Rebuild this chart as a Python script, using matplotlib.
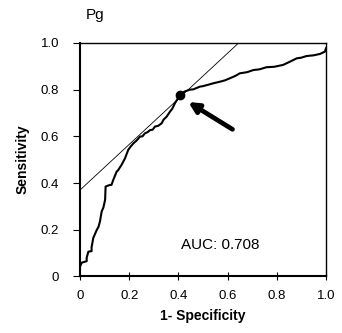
import matplotlib
matplotlib.use("Agg")
import matplotlib.pyplot as plt

plt.rcParams['font.family'] = ['Liberation Sans', 'DejaVu Sans']

# ROC curve (1-specificity, sensitivity)
fpr = [0.0, 0.0, 0.007, 0.027, 0.027, 0.034, 0.047, 0.047, 0.054, 0.068, 0.075, 0.081, 0.088,
       0.095, 0.102, 0.104, 0.122, 0.128, 0.135, 0.149, 0.155, 0.169, 0.183, 0.196, 0.205,
       0.217, 0.23, 0.244, 0.254, 0.264, 0.275, 0.285, 0.295, 0.305, 0.318, 0.332, 0.34,
       0.352, 0.366, 0.375, 0.386, 0.407, 0.425, 0.447, 0.46, 0.488, 0.50, 0.528, 0.545,
       0.569, 0.59, 0.61, 0.63, 0.65, 0.68, 0.705, 0.73, 0.758, 0.79, 0.826, 0.854, 0.881,
       0.90, 0.921, 0.95, 0.976, 0.996, 1.0]
tpr = [0.03, 0.042, 0.059, 0.065, 0.080, 0.106, 0.108, 0.125, 0.165, 0.199, 0.212, 0.235,
       0.278, 0.295, 0.328, 0.385, 0.392, 0.392, 0.413, 0.449, 0.455, 0.478, 0.506, 0.542,
       0.555, 0.570, 0.582, 0.599, 0.60, 0.613, 0.618, 0.627, 0.628, 0.642, 0.645, 0.656,
       0.672, 0.684, 0.706, 0.718, 0.742, 0.777, 0.792, 0.80, 0.801, 0.813, 0.815, 0.823,
       0.828, 0.834, 0.84, 0.849, 0.858, 0.870, 0.875, 0.884, 0.887, 0.896, 0.898, 0.906,
       0.92, 0.934, 0.937, 0.944, 0.947, 0.953, 0.963, 0.977]

# Tangent line endpoints
tan_x = [0.0, 0.645]
tan_y = [0.37, 1.0]

# Optimal cut-off point
opt_x, opt_y = 0.407, 0.777

ticks = [0, 0.2, 0.4, 0.6, 0.8, 1.0]
tick_labels = ['0', '0.2', '0.4', '0.6', '0.8', '1.0']

fig = plt.figure(figsize=(3.42, 3.33), dpi=100)
ax = fig.add_axes([0.234, 0.170, 0.719, 0.701])

ax.plot(fpr, tpr, color='black', lw=1.5)
ax.plot(tan_x, tan_y, color='black', lw=0.6)
ax.plot([opt_x], [opt_y], 'o', color='black', ms=6)
ax.annotate('', xy=(0.44, 0.747), xytext=(0.62, 0.63),
            arrowprops=dict(arrowstyle='-|>', color='black', lw=3.4,
                            mutation_scale=15, shrinkA=0, shrinkB=0))

ax.text(0.41, 0.135, 'AUC: 0.708', fontsize=11, va='center', ha='left')

ax.set_xlim(0, 1)
ax.set_ylim(0, 1)
ax.set_xticks(ticks)
ax.set_xticklabels(tick_labels)
ax.set_yticks(ticks)
ax.set_yticklabels(tick_labels)
ax.tick_params(axis='y', direction='out', length=5, width=0.8, labelsize=9.5, pad=10)
ax.tick_params(axis='x', direction='inout', length=6, width=0.8, labelsize=9.5, pad=7)
for s in ax.spines.values():
    s.set_linewidth(1.0)
ax.spines['left'].set_linewidth(1.5)
ax.spines['bottom'].set_linewidth(1.5)

ax.set_xlabel('1- Specificity', fontsize=10, fontweight='bold', labelpad=5)
ax.set_ylabel('Sensitivity', fontsize=10, fontweight='bold', labelpad=8)

fig.text(0.25, 0.955, 'Pg', fontsize=11, ha='left', va='center')

fig.savefig('out.png', dpi=100)
